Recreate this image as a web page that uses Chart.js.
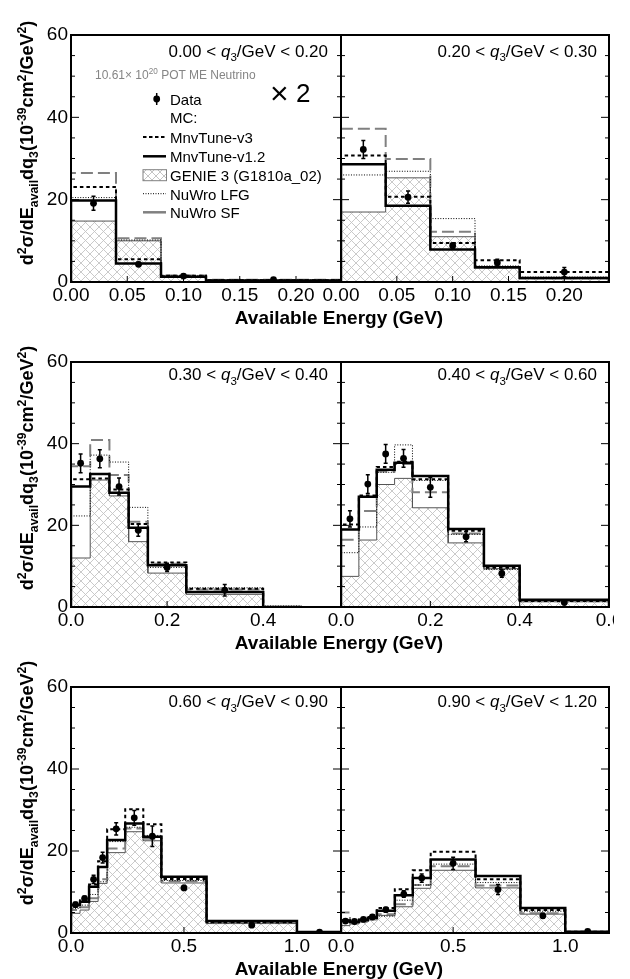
<!DOCTYPE html>
<html>
<head>
<meta charset="utf-8">
<title>Inclusive cross section in q3 bins</title>
<script src="https://cdn.jsdelivr.net/npm/chart.js@4.4.1/dist/chart.umd.min.js"></script>
<style>
  html, body { margin: 0; padding: 0; background: #fff; }
  body { position: relative; width: 630px; height: 979px; overflow: hidden;
         font-family: "Liberation Sans", Arial, Helvetica, sans-serif; color: #000; }
  canvas { position: absolute; }
  .t { position: absolute; white-space: nowrap; line-height: 1; }
  .t sub, .t sup { font-size: 0.68em; line-height: 0; position: relative; vertical-align: baseline; }
  .t sup { top: -0.55em; }
  .t sub { top: 0.4em; }
  .ytitle { font-weight: bold; font-size: 18px; transform: translate(-50%, -50%) rotate(-90deg); }
  .xtitle { font-weight: bold; font-size: 19px; transform: translate(-50%, -50%); }
  .bin { font-size: 17px; transform: translateY(-50%); }
  .leg { font-size: 15px; transform: translateY(-50%); left: 170px; }
</style>
</head>
<body>
<canvas id="c1" width="366" height="290" style="left:0;top:20px"></canvas>
<canvas id="c2" width="303" height="290" style="left:311px;top:20px"></canvas>
<canvas id="c3" width="366" height="288" style="left:0;top:347px"></canvas>
<canvas id="c4" width="303" height="288" style="left:311px;top:347px"></canvas>
<canvas id="c5" width="366" height="289" style="left:0;top:672px"></canvas>
<canvas id="c6" width="303" height="289" style="left:311px;top:672px"></canvas>

<div id="texts"></div>

<!-- legend samples -->
<svg style="position:absolute;left:140px;top:88px" width="32" height="132">
  <defs>
    <pattern id="hatch" width="8" height="8" patternUnits="userSpaceOnUse">
      <path d="M0,0 L8,8 M8,0 L0,8" stroke="#c4c4c4" stroke-width="1"/>
    </pattern>
  </defs>
  <line x1="16.7" y1="5" x2="16.7" y2="17" stroke="#000" stroke-width="1.5"/>
  <circle cx="16.7" cy="11" r="3.4" fill="#000"/>
  <line x1="3" y1="49" x2="26" y2="49" stroke="#000" stroke-width="2" stroke-dasharray="3.5 2.5"/>
  <line x1="3" y1="68.3" x2="26" y2="68.3" stroke="#000" stroke-width="2.5"/>
  <rect x="3" y="81.7" width="23.5" height="11" fill="url(#hatch)" stroke="#808080" stroke-width="1"/>
  <line x1="3" y1="105.7" x2="26" y2="105.7" stroke="#000" stroke-width="1" stroke-dasharray="1 1.5"/>
  <line x1="3" y1="124.3" x2="26" y2="124.3" stroke="#808080" stroke-width="2.5"/>
</svg>

<script>
// q3 slice boundaries (GeV)
const q3Edges = ['0.00', '0.20', '0.30', '0.40', '0.60', '0.90', '1.20'];

// tick labels
const xTicksRow1 = [0, 0.05, 0.10, 0.15, 0.20];
const xTicksRow2 = [0, 0.2, 0.4, 0.6];
const xTicksRow3 = [0, 0.5, 1.0];
const yTicks = [0, 20, 40, 60];

// 0.00 < q3 < 0.20 (shown x2)
const edges1 = [0, 0.04, 0.08, 0.12, 0.24];
const dataX1 = [0.02, 0.06, 0.10, 0.18];
const data1  = [19.1, 4.3, 1.45, 0.55];
const err1   = [1.7, 0.5, 0.3, 0.15];
const v3_1   = [23.1, 5.5, 1.5, 0.45];
const v12_1  = [19.8, 4.5, 1.3, 0.35];
const genie1 = [14.8, 10.0, 1.4, 0.3];
const lfg1   = [20.5, 10.2, 1.6, 0.5];
const sf1    = [26.5, 10.6, 1.6, 0.55];

// 0.20 < q3 < 0.30
const edges2 = [0, 0.04, 0.08, 0.12, 0.16, 0.24];
const dataX2 = [0.02, 0.06, 0.10, 0.14, 0.20];
const data2  = [32.2, 20.6, 8.8, 4.7, 2.4];
const err2   = [2.2, 1.5, 0.7, 0.8, 1.1];
const v3_2   = [30.7, 20.7, 9.5, 5.3, 2.4];
const v12_2  = [28.6, 18.5, 7.9, 3.6, 1.0];
const genie2 = [17.0, 25.3, 11.0, 3.3, 0.8];
const lfg2   = [26.0, 26.9, 15.4, 3.9, 1.2];
const sf2    = [37.2, 29.9, 12.2, 3.4, 0.9];

// 0.30 < q3 < 0.40
const edges3 = [0, 0.04, 0.08, 0.12, 0.16, 0.24, 0.40, 0.48];
const dataX3 = [0.02, 0.06, 0.10, 0.14, 0.20, 0.32];
const data3  = [35.2, 36.3, 29.5, 18.8, 9.7, 4.1];
const err3   = [2.3, 2.2, 2.1, 1.5, 1.0, 1.4];
const v3_3   = [31.3, 31.5, 28.8, 20.3, 10.9, 4.5, 0];
const v12_3  = [29.5, 32.6, 28.0, 19.4, 10.2, 3.7, 0];
const genie3 = [12.0, 31.1, 27.2, 16.0, 8.3, 3.1, 0];
const lfg3   = [22.3, 37.2, 35.5, 24.4, 9.7, 4.7, 0.25];
const sf3    = [34.5, 40.9, 32.3, 20.9, 10.6, 4.3, 0];

// 0.40 < q3 < 0.60
const edges4 = [0, 0.04, 0.08, 0.12, 0.16, 0.24, 0.32, 0.40, 0.60];
const dataX4 = [0.02, 0.06, 0.10, 0.14, 0.20, 0.28, 0.36, 0.50];
const data4  = [21.6, 30.1, 37.5, 36.4, 29.3, 17.2, 8.2, 1.1];
const err4   = [2.0, 2.3, 2.3, 2.2, 2.4, 1.2, 0.9, 0.3];
const v3_4   = [20.2, 27.3, 34.3, 35.6, 31.3, 18.7, 9.6, 1.5];
const v12_4  = [19.0, 27.0, 33.6, 35.3, 32.1, 19.1, 10.1, 1.8];
const genie4 = [7.5, 16.4, 30.0, 31.5, 24.3, 15.7, 9.4, 1.3];
const lfg4   = [13.3, 19.6, 33.0, 39.7, 31.0, 17.8, 9.2, 1.6];
const sf4    = [16.5, 23.5, 33.2, 35.0, 28.1, 18.0, 9.4, 1.4];

// 0.60 < q3 < 0.90
const edges5 = [0, 0.04, 0.08, 0.12, 0.16, 0.24, 0.32, 0.40, 0.60, 1.00, 1.20];
const dataX5 = [0.02, 0.06, 0.10, 0.14, 0.20, 0.28, 0.36, 0.50, 0.80, 1.10];
const data5  = [6.9, 8.4, 13.1, 18.4, 25.4, 28.1, 23.6, 11.0, 1.9, 0.2];
const err5   = [0.6, 0.6, 1.0, 1.3, 1.5, 1.8, 2.5, 0.6, 0.3, 0.1];
const v3_5   = [7.2, 8.0, 11.8, 17.5, 25.3, 30.2, 26.5, 13.2, 2.6, 0.2];
const v12_5  = [6.8, 7.6, 11.3, 16.1, 22.7, 26.7, 23.5, 13.7, 2.9, 0.25];
const genie5 = [4.8, 5.6, 7.7, 12.1, 19.6, 24.7, 22.5, 12.2, 2.3, 0.2];
const lfg5   = [6.0, 6.8, 9.4, 12.5, 22.3, 25.8, 23.8, 12.8, 2.5, 0.2];
const sf5    = [5.6, 6.3, 8.5, 13.1, 20.6, 25.5, 23.0, 12.6, 2.5, 0.2];

// 0.90 < q3 < 1.20
const edges6 = [0, 0.04, 0.08, 0.12, 0.16, 0.24, 0.32, 0.40, 0.60, 0.80, 1.00, 1.20];
const dataX6 = [0.02, 0.06, 0.10, 0.14, 0.20, 0.28, 0.36, 0.50, 0.70, 0.90, 1.10];
const data6  = [2.9, 2.8, 3.3, 3.9, 5.7, 9.5, 13.4, 17.0, 10.6, 4.2, 0.4];
const err6   = [0.4, 0.4, 0.4, 0.4, 0.5, 0.8, 1.0, 1.5, 1.2, 0.6, 0.2];
const v3_6   = [3.1, 2.8, 3.3, 3.9, 6.1, 10.7, 15.3, 19.8, 13.1, 5.6, 0.3];
const v12_6  = [3.0, 2.7, 3.2, 3.7, 5.4, 9.2, 13.4, 17.9, 13.9, 6.1, 0.3];
const genie6 = [1.8, 2.2, 2.7, 3.2, 4.3, 6.4, 10.9, 15.3, 11.0, 4.6, 0.2];
const lfg6   = [2.6, 2.6, 3.0, 3.5, 4.1, 8.0, 11.7, 16.8, 12.3, 5.3, 0.25];
const sf6    = [5.0, 2.5, 2.9, 3.4, 4.6, 7.0, 11.7, 16.3, 11.6, 4.8, 0.2];

const FONT = '"Liberation Sans", Arial, Helvetica, sans-serif';

// grey cross hatch used for GENIE 3
function makeHatch() {
  const c = document.createElement('canvas');
  c.width = 9; c.height = 9;
  const g = c.getContext('2d');
  g.strokeStyle = '#c4c4c4';
  g.lineWidth = 0.9;
  g.beginPath();
  g.moveTo(0, 0); g.lineTo(9, 9);
  g.moveTo(9, 0); g.lineTo(0, 9);
  g.stroke();
  return g.createPattern(c, 'repeat');
}
const hatch = makeHatch();

const styles = {
  genie: { borderColor: '#555', borderWidth: 1, backgroundColor: hatch, fill: 'origin', order: 5 },
  sf:    { borderColor: '#808080', borderWidth: 2, borderDash: [12, 5], order: 4 },
  lfg:   { borderColor: '#000', borderWidth: 1, borderDash: [1, 1.6], order: 3 },
  v12:   { borderColor: '#000', borderWidth: 2.5, order: 2 },
  v3:    { borderColor: '#000', borderWidth: 2, borderDash: [3.5, 3], order: 1 }
};

// outline of a histogram: corner points of every bin
function histPoints(edges, vals) {
  const pts = [{ x: edges[0], y: 0 }];
  vals.forEach((v, i) => {
    pts.push({ x: edges[i], y: v });
    pts.push({ x: edges[i + 1], y: v });
  });
  pts.push({ x: edges[edges.length - 1], y: 0 });
  return pts;
}

function histSet(label, edges, vals, style) {
  return Object.assign({
    label: label, data: histPoints(edges, vals),
    pointRadius: 0, tension: 0, fill: false
  }, style);
}

// frame, inward ticks and data error bars
function framePlugin(p) {
  return {
    id: 'frame',
    afterDatasetsDraw(chart) {
      const { ctx, chartArea: a } = chart;
      const x = chart.scales.x, y = chart.scales.y;
      ctx.save();
      ctx.strokeStyle = '#000';

      ctx.lineWidth = 1.5;
      ctx.beginPath();
      p.dx.forEach((xv, i) => {
        const px = x.getPixelForValue(xv);
        const top = y.getPixelForValue(p.dy[i] + p.de[i]);
        const bot = y.getPixelForValue(Math.max(p.dy[i] - p.de[i], 0));
        ctx.moveTo(px, top); ctx.lineTo(px, bot);
        ctx.moveTo(px - 2, top); ctx.lineTo(px + 2, top);
        ctx.moveTo(px - 2, bot); ctx.lineTo(px + 2, bot);
      });
      ctx.stroke();

      ctx.lineWidth = 1;
      ctx.beginPath();
      for (let v = 0; v <= 60; v += 5) {
        const py = y.getPixelForValue(v);
        const len = v % 20 === 0 ? 8 : 4;
        ctx.moveTo(a.left, py); ctx.lineTo(a.left + len, py);
        ctx.moveTo(a.right, py); ctx.lineTo(a.right - len, py);
      }
      p.ticks.forEach(v => {
        if (v > p.xMax) return;
        const px = x.getPixelForValue(v);
        ctx.moveTo(px, a.bottom); ctx.lineTo(px, a.bottom - 6);
      });
      ctx.stroke();

      ctx.lineWidth = 2;
      ctx.strokeRect(a.left, a.top, a.right - a.left, a.bottom - a.top);
      ctx.restore();
    }
  };
}

const panels = [
  { id: 'c1', edges: edges1, dx: dataX1, dy: data1, de: err1, v3: v3_1, v12: v12_1, genie: genie1, lfg: lfg1, sf: sf1, xMax: 0.24, ticks: xTicksRow1, dec: 2, left: true },
  { id: 'c2', edges: edges2, dx: dataX2, dy: data2, de: err2, v3: v3_2, v12: v12_2, genie: genie2, lfg: lfg2, sf: sf2, xMax: 0.24, ticks: xTicksRow1, dec: 2, left: false },
  { id: 'c3', edges: edges3, dx: dataX3, dy: data3, de: err3, v3: v3_3, v12: v12_3, genie: genie3, lfg: lfg3, sf: sf3, xMax: 0.562, ticks: xTicksRow2, dec: 1, left: true },
  { id: 'c4', edges: edges4, dx: dataX4, dy: data4, de: err4, v3: v3_4, v12: v12_4, genie: genie4, lfg: lfg4, sf: sf4, xMax: 0.6, ticks: xTicksRow2, dec: 1, left: false },
  { id: 'c5', edges: edges5, dx: dataX5, dy: data5, de: err5, v3: v3_5, v12: v12_5, genie: genie5, lfg: lfg5, sf: sf5, xMax: 1.195, ticks: xTicksRow3, dec: 1, left: true },
  { id: 'c6', edges: edges6, dx: dataX6, dy: data6, de: err6, v3: v3_6, v12: v12_6, genie: genie6, lfg: lfg6, sf: sf6, xMax: 1.195, ticks: xTicksRow3, dec: 1, left: false }
];

panels.forEach(p => {
  const datasets = [
    histSet('GENIE 3 (G1810a_02)', p.edges, p.genie, styles.genie),
    histSet('NuWro SF', p.edges, p.sf, styles.sf),
    histSet('NuWro LFG', p.edges, p.lfg, styles.lfg),
    histSet('MnvTune-v1.2', p.edges, p.v12, styles.v12),
    histSet('MnvTune-v3', p.edges, p.v3, styles.v3),
    {
      label: 'Data',
      data: p.dx.map((xv, i) => ({ x: xv, y: p.dy[i] })),
      showLine: false, pointRadius: 3.4, pointBorderWidth: 0,
      pointBackgroundColor: '#000', borderColor: '#000', order: 0
    }
  ];

  new Chart(document.getElementById(p.id), {
    type: 'line',
    data: { datasets: datasets },
    options: {
      responsive: false,
      animation: false,
      events: [],
      layout: { padding: { left: p.left ? 0 : 30, right: p.left ? 25 : 5, top: 15, bottom: 0 } },
      plugins: { legend: { display: false }, tooltip: { enabled: false } },
      scales: {
        x: {
          type: 'linear', min: 0, max: p.xMax,
          grid: { display: false, drawTicks: false },
          border: { display: false },
          afterBuildTicks: s => { s.ticks = p.ticks.filter(v => v <= p.xMax + 1e-9).map(v => ({ value: v })); },
          afterFit: s => { s.height = 28; s.paddingLeft = 0; s.paddingRight = 0; },
          ticks: {
            autoSkip: false, maxRotation: 0, padding: 2, color: '#000',
            font: { family: FONT, size: 19 },
            callback: v => Number(v).toFixed(p.dec)
          }
        },
        y: {
          display: p.left, min: 0, max: 60,
          grid: { display: false, drawTicks: false },
          border: { display: false },
          afterBuildTicks: s => { s.ticks = yTicks.map(v => ({ value: v })); },
          afterFit: s => { s.width = p.left ? 71 : 0; s.paddingTop = 0; s.paddingBottom = 0; },
          ticks: { padding: 3, color: '#000', font: { family: FONT, size: 19 } }
        }
      }
    },
    plugins: [framePlugin(p)]
  });
});

// text: axis titles, q3 slice labels, legend
const yTitle = 'd<sup>2</sup>&sigma;/dE<sub>avail</sub>dq<sub>3</sub>(10<sup>-39</sup>cm<sup>2</sup>/GeV<sup>2</sup>)';
const rowTitleY = [143, 468, 783];
const rowAxisY = [317, 642, 968];
const rowLabelY = [50.5, 374, 701];
let html = '';
rowTitleY.forEach(cy => { html += `<div class="t ytitle" style="left:27px;top:${cy}px">${yTitle}</div>`; });
rowAxisY.forEach(cy => { html += `<div class="t xtitle" style="left:339px;top:${cy}px">Available Energy (GeV)</div>`; });
for (let i = 0; i < 6; i++) {
  const row = Math.floor(i / 2);
  const right = i % 2 === 0 ? 302 : 33;
  html += `<div class="t bin" style="right:${right}px;top:${rowLabelY[row]}px">${q3Edges[i]} &lt; <i>q</i><sub>3</sub>/GeV &lt; ${q3Edges[i + 1]}</div>`;
}
html += '<div class="t" style="left:95px;top:74.7px;transform:translateY(-50%);font-size:12px;color:#858585">10.61&times; 10<sup>20</sup> POT ME Neutrino</div>';
html += '<div class="t" style="left:270px;top:90.7px;transform:translateY(-50%);font-size:26px"><span style="font-size:32px;position:relative;top:2px">&times;</span> 2</div>';
const legendRows = [['Data', 99], ['MC:', 117.3], ['MnvTune-v3', 137], ['MnvTune-v1.2', 156.3],
                    ['GENIE 3 (G1810a_02)', 175.3], ['NuWro LFG', 193.7], ['NuWro SF', 212.3]];
legendRows.forEach(([txt, cy]) => { html += `<div class="t leg" style="top:${cy}px">${txt}</div>`; });
document.getElementById('texts').innerHTML = html;
</script>
</body>
</html>
